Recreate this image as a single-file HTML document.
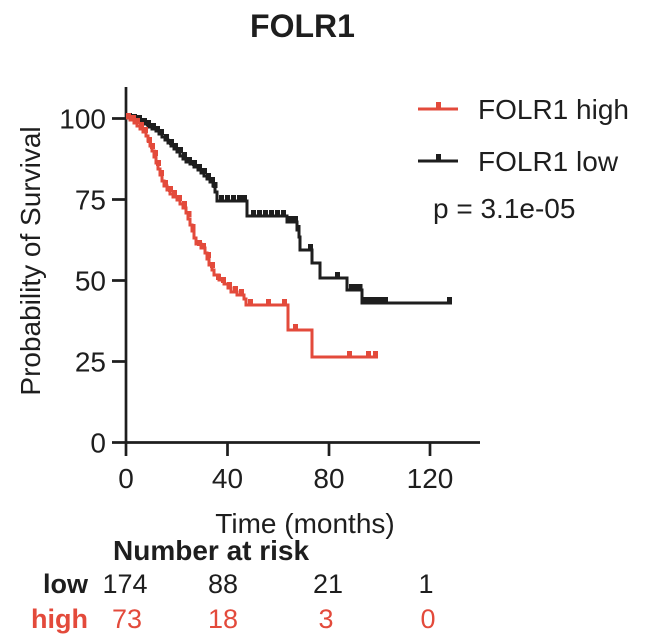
<!DOCTYPE html>
<html><head><meta charset="utf-8">
<style>
html,body{margin:0;padding:0;background:#fff;}
svg{display:block;}
text{font-family:"Liberation Sans",Arial,sans-serif;fill:#1e1e1e;}
.r{fill:#e34a3b;}
</style></head>
<body>
<svg width="645" height="643" viewBox="0 0 645 643" xmlns="http://www.w3.org/2000/svg">
<text x="302.5" y="37" font-size="32" font-weight="bold" text-anchor="middle">FOLR1</text>
<g stroke="#1e1e1e" stroke-width="2.7" fill="none">
<path d="M126,87 V456 M112,442.5 H480 M112,118.5 H126 M112,199.5 H126 M112,280.5 H126 M112,361.5 H126 M227.5,442.5 V456 M329,442.5 V456 M430,442.5 V456"/>
</g>
<g font-size="28" text-anchor="end">
<text x="106" y="128.5">100</text>
<text x="106" y="209.5">75</text>
<text x="106" y="290.5">50</text>
<text x="106" y="371.5">25</text>
<text x="106" y="452.5">0</text>
</g>
<g font-size="28" text-anchor="middle">
<text x="126" y="488">0</text>
<text x="227.5" y="488">40</text>
<text x="329" y="488">80</text>
<text x="430" y="488">120</text>
</g>
<text transform="translate(40,261) rotate(-90)" font-size="28" text-anchor="middle">Probability of Survival</text>
<text x="305" y="533" font-size="28" text-anchor="middle">Time (months)</text>
<path fill="none" stroke="#1e1e1e" stroke-width="3" d="M126,118 H136 V120 H140 V122 H144 V124 H148 V127 H152 V129 H156 V131 H159 V134 H162 V137 H165 V140 H168 V143 H171 V146 H174 V149 H177 V152 H180 V156 H183 V159 H186 V162 H190 V164 H194 V167 H198 V170 H201 V173 H204 V176 H207 V179 H210 V182 H213 V186 H215 V192 H217 V201 H247 V216 H287 V222 H297 V230 H299 V237 H300 V250 H312 V263 H320 V278 H347 V290 H362 V303 H452"/>
<path fill="none" stroke="#1e1e1e" stroke-width="5" d="M129.5,113 v6 M134.5,114 v6 M139.5,115 v6 M144.5,118 v6 M148.5,120 v6 M153.5,123 v6 M157.5,126 v6 M161.5,129 v6 M166.5,134 v6 M171.5,139 v6 M175.5,143 v6 M180.5,147 v6 M184.5,152 v6 M189.5,157 v6 M194.5,160 v6 M199.5,164 v6 M204.5,168 v6 M208.5,173 v6 M212.5,177 v6 M215,182 v6 M221.5,195 v6 M227.5,195 v6 M233.5,195 v6 M239.5,195 v6 M244.5,195 v6 M253.5,210 v6 M259.5,210 v6 M265.5,210 v6 M271.5,210 v6 M277.5,210 v6 M283.5,210 v6 M290.5,216 v6 M295.5,216 v6 M298,225 v6 M310.5,244 v6 M337.5,272 v6 M351.5,284 v6 M356.5,284 v6 M360,284 v6 M365.5,297 v6 M370.5,297 v6 M375.5,297 v6 M380.5,297 v6 M385.5,297 v6 M449.5,297 v6"/>
<path fill="none" stroke="#e34a3b" stroke-width="3" d="M126,118 H130 V120 H134 V123 H137 V126 H140 V129 H143 V132 H146 V136 H148 V141 H150 V146 H152 V151 H154 V157 H156 V163 H158 V169 H160 V175 H162 V181 H164 V186 H167 V190 H170 V194 H173 V197 H177 V200 H180 V204 H183 V208 H186 V213 H188 V219 H190 V225 H192 V231 H194 V238 H196 V244 H201 V248 H205 V253 H207 V259 H209 V265 H212 V270 H214 V275 H219 V280 H224 V284 H228 V288 H231 V292 H237 V295 H244 V299 H246 V305 H288 V330 H312 V357 H378"/>
<path fill="none" stroke="#e34a3b" stroke-width="5" d="M128.5,113 v6 M133.5,115 v6 M137.5,118 v6 M141.5,122 v6 M145.5,127 v6 M149.5,137 v6 M152.5,143 v6 M155.5,150 v6 M158.5,160 v6 M161.5,170 v6 M165.5,180 v6 M170.5,186 v6 M174.5,190 v6 M179.5,195 v6 M184.5,201 v6 M189,211 v6 M193,224 v6 M199.5,240 v6 M203.5,243 v6 M208.5,252 v6 M212.5,262 v6 M218.5,274 v6 M223.5,277 v6 M229.5,282 v6 M235.5,286 v6 M241.5,289 v6 M250.5,299 v6 M268.5,299 v6 M284.5,299 v6 M295.5,324 v6 M349.5,351 v6 M368.5,351 v6 M375.5,351 v6"/>
<path stroke="#e34a3b" stroke-width="3" d="M418,109 H458"/>
<path stroke="#e34a3b" stroke-width="5" d="M438.5,102 v7"/>
<text x="478" y="119" font-size="28">FOLR1 high</text>
<path stroke="#1e1e1e" stroke-width="3" d="M418,161 H458"/>
<path stroke="#1e1e1e" stroke-width="5" d="M438.5,154 v7"/>
<text x="478" y="171" font-size="28">FOLR1 low</text>
<text x="433" y="218" font-size="28">p = 3.1e-05</text>
<text x="113" y="560" font-size="28" font-weight="bold">Number at risk</text>
<text x="88" y="593" font-size="27" font-weight="bold" text-anchor="end">low</text>
<text x="88" y="628" font-size="27" font-weight="bold" text-anchor="end" class="r">high</text>
<g font-size="27" text-anchor="middle">
<text x="125" y="593">174</text>
<text x="223" y="593">88</text>
<text x="328" y="593">21</text>
<text x="426" y="593">1</text>
<text x="127" y="628" class="r">73</text>
<text x="223" y="628" class="r">18</text>
<text x="326" y="628" class="r">3</text>
<text x="428" y="628" class="r">0</text>
</g>
</svg>
</body></html>
